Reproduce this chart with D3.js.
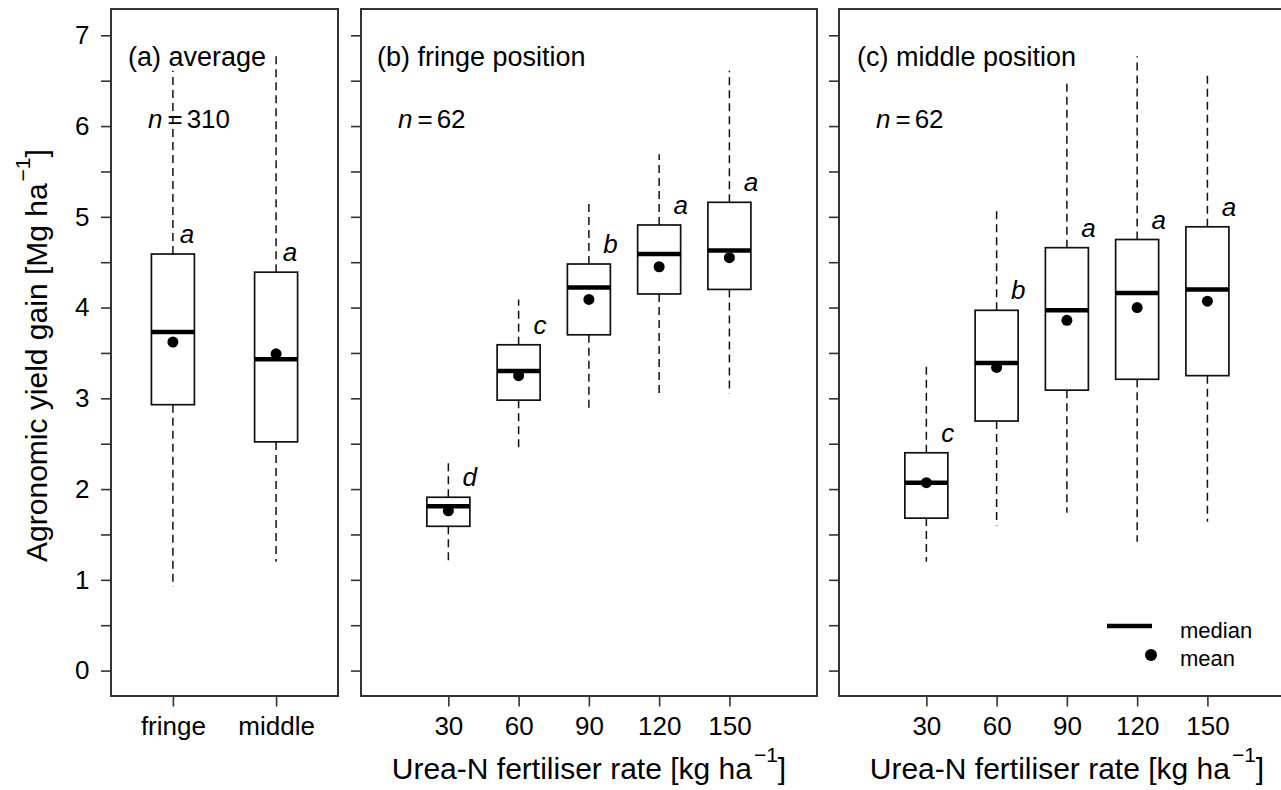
<!DOCTYPE html>
<html><head><meta charset="utf-8">
<script src="https://cdn.jsdelivr.net/npm/d3@7"></script>
<style>
body{margin:0;background:#fff}
svg{display:block}
text{font-family:"Liberation Sans",Arial,Helvetica,sans-serif;fill:#000}
</style>
</head><body>
<svg id="chart" width="1281" height="790"></svg>
<script>
// ---------------- data ----------------
const avgCategories = ["fringe", "middle"];
const avgMin    = [0.92, 1.20];
const avgQ1     = [2.93, 2.52];
const avgMedian = [3.73, 3.43];
const avgQ3     = [4.59, 4.39];
const avgMax    = [6.61, 6.77];
const avgMean   = [3.62, 3.49];
const avgLetters = ["a", "a"];

const rates = [30, 60, 90, 120, 150];

const fringeMin    = [1.18, 2.46, 2.87, 3.02, 3.05];
const fringeQ1     = [1.59, 2.98, 3.70, 4.15, 4.20];
const fringeMedian = [1.81, 3.30, 4.22, 4.59, 4.63];
const fringeQ3     = [1.91, 3.59, 4.48, 4.91, 5.16];
const fringeMax    = [2.31, 4.09, 5.17, 5.69, 6.61];
const fringeMean   = [1.76, 3.25, 4.09, 4.45, 4.55];
const fringeLetters = ["d", "c", "b", "a", "a"];

const middleMin    = [1.20, 1.60, 1.74, 1.42, 1.64];
const middleQ1     = [1.68, 2.75, 3.09, 3.21, 3.25];
const middleMedian = [2.07, 3.39, 3.97, 4.16, 4.20];
const middleQ3     = [2.40, 3.97, 4.66, 4.75, 4.89];
const middleMax    = [3.36, 5.11, 6.52, 6.77, 6.58];
const middleMean   = [2.07, 3.34, 3.86, 4.00, 4.07];
const middleLetters = ["c", "b", "a", "a", "a"];

const yTickValues = [0, 0.5, 1, 1.5, 2, 2.5, 3, 3.5, 4, 4.5, 5, 5.5, 6, 6.5, 7];
const yTickLabels = ["0", "", "1", "", "2", "", "3", "", "4", "", "5", "", "6", "", "7"];

const panelTitles = ["(a) average", "(b) fringe position", "(c) middle position"];
const panelN = ["310", "62", "62"];
const xAxisTitle = "Urea-N fertiliser rate [kg ha";
const yAxisTitle = "Agronomic yield gain [Mg ha";
const unitSup = "\u22121";
const legendLabels = ["median", "mean"];

// ---------------- layout ----------------
const svg = d3.select("#chart");
svg.append("rect").attr("width", 1281).attr("height", 790).attr("fill", "#fff");

const plotTop = 9, plotBottom = 696;
const y = d3.scaleLinear().domain([-0.28, 7.29]).range([plotBottom, plotTop]);

const frameColor = "#333";
const boxHalf = 21.5;

function zip(cats, mn, q1, md, q3, mx, me, let_) {
  return cats.map((c, i) => ({cat: c, min: mn[i], q1: q1[i], med: md[i], q3: q3[i], max: mx[i], mean: me[i], letter: let_[i]}));
}

const panels = [
  {x0: 111, x1: 338, scale: d3.scalePoint().domain(avgCategories).range([111, 338]).padding(0.6),
   ticks: avgCategories, rows: zip(avgCategories, avgMin, avgQ1, avgMedian, avgQ3, avgMax, avgMean, avgLetters),
   letterDx: 14, titleDx: 17, labels: true, xtitle: false},
  {x0: 361, x1: 817, scale: d3.scaleLinear().domain([-7.3, 187.4]).range([361, 817]),
   ticks: rates, rows: zip(rates, fringeMin, fringeQ1, fringeMedian, fringeQ3, fringeMax, fringeMean, fringeLetters),
   letterDx: 21.5, titleDx: 16, labels: false, xtitle: true},
  {x0: 839, x1: 1295, scale: d3.scaleLinear().domain([-7.3, 187.4]).range([839, 1295]),
   ticks: rates, rows: zip(rates, middleMin, middleQ1, middleMedian, middleQ3, middleMax, middleMean, middleLetters),
   letterDx: 21.5, titleDx: 18, labels: false, xtitle: true}
];

panels.forEach((p, pi) => {
  const g = svg.append("g");
  const x = p.scale;

  // y axis
  const yAxis = d3.axisLeft(y).tickValues(yTickValues).tickSize(10).tickPadding(11.5)
    .tickFormat((d, i) => p.labels ? yTickLabels[i] : "");
  const ya = g.append("g").attr("transform", `translate(${p.x0},0)`).call(yAxis);
  ya.select(".domain").remove();
  ya.selectAll(".tick line").attr("stroke", frameColor).attr("stroke-width", 1.6);
  ya.selectAll(".tick text").attr("font-size", 26).attr("font-family", null).attr("fill", "#000");

  // x axis
  const xAxis = d3.axisBottom(x).tickValues(p.ticks).tickSize(10.5).tickPadding(9);
  const xa = g.append("g").attr("transform", `translate(0,${plotBottom})`).call(xAxis);
  xa.select(".domain").remove();
  xa.selectAll(".tick line").attr("stroke", frameColor).attr("stroke-width", 1.6);
  xa.selectAll(".tick text").attr("font-size", 26).attr("font-family", null).attr("fill", "#000")
    .attr("y", 38.5).attr("dy", 0);

  // frame
  g.append("rect").attr("x", p.x0).attr("y", plotTop).attr("width", p.x1 - p.x0).attr("height", plotBottom - plotTop)
    .attr("fill", "none").attr("stroke", frameColor).attr("stroke-width", 2);

  // boxes
  const b = g.selectAll(".bx").data(p.rows).join("g").attr("class", "bx");
  b.append("line").attr("x1", d => x(d.cat)).attr("x2", d => x(d.cat))
    .attr("y1", d => y(d.q3)).attr("y2", d => y(d.max))
    .attr("stroke", "#111").attr("stroke-width", 1.5).attr("stroke-dasharray", "8,5");
  b.append("line").attr("x1", d => x(d.cat)).attr("x2", d => x(d.cat))
    .attr("y1", d => y(d.q1)).attr("y2", d => y(d.min))
    .attr("stroke", "#111").attr("stroke-width", 1.5).attr("stroke-dasharray", "8,5");
  b.append("rect").attr("x", d => x(d.cat) - boxHalf).attr("width", boxHalf * 2)
    .attr("y", d => y(d.q3)).attr("height", d => y(d.q1) - y(d.q3))
    .attr("fill", "#fff").attr("stroke", "#111").attr("stroke-width", 1.7);
  b.append("line").attr("x1", d => x(d.cat) - boxHalf).attr("x2", d => x(d.cat) + boxHalf)
    .attr("y1", d => y(d.med)).attr("y2", d => y(d.med))
    .attr("stroke", "#000").attr("stroke-width", 4.5);
  b.append("circle").attr("cx", d => x(d.cat)).attr("cy", d => y(d.mean)).attr("r", 5.5).attr("fill", "#000");
  b.append("text").attr("x", d => x(d.cat) + p.letterDx).attr("y", d => y(d.q3) - 11)
    .attr("text-anchor", "middle").attr("font-size", 26).attr("font-style", "italic").text(d => d.letter);

  // panel title
  g.append("text").attr("x", p.x0 + p.titleDx).attr("y", 66).attr("font-size", 27).text(panelTitles[pi]);
  // n label
  const nt = g.append("text").attr("x", p.x0 + 37).attr("y", 128).attr("font-size", 26);
  nt.append("tspan").attr("font-style", "italic").text("n");
  nt.append("tspan").attr("dx", 5).text("=");
  nt.append("tspan").attr("dx", 4).text(panelN[pi]);

  // x axis title
  if (p.xtitle) {
    const t = g.append("text").attr("x", (p.x0 + p.x1) / 2).attr("y", 779).attr("text-anchor", "middle").attr("font-size", 30);
    t.append("tspan").text(xAxisTitle);
    t.append("tspan").attr("font-size", 21).attr("dx", 2).attr("dy", -17).text(unitSup);
    t.append("tspan").attr("dy", 17).text("]");
  }
});

// y axis title
const yt = svg.append("text").attr("transform", `translate(47,${(plotTop + plotBottom) / 2 + 3}) rotate(-90)`)
  .attr("text-anchor", "middle").attr("font-size", 30);
yt.append("tspan").text(yAxisTitle);
yt.append("tspan").attr("font-size", 21).attr("dx", 2).attr("dy", -17).text(unitSup);
yt.append("tspan").attr("dy", 17).text("]");

// legend (inside panel c)
const lg = svg.append("g");
lg.append("line").attr("x1", 1107).attr("x2", 1152).attr("y1", 626).attr("y2", 626).attr("stroke", "#000").attr("stroke-width", 4.3);
lg.append("circle").attr("cx", 1151).attr("cy", 655).attr("r", 6).attr("fill", "#000");
lg.selectAll(".lt").data(legendLabels).join("text").attr("class", "lt")
  .attr("x", 1180).attr("y", (d, i) => 637.5 + i * 28).attr("font-size", 22).text(d => d);
</script>
</body></html>
